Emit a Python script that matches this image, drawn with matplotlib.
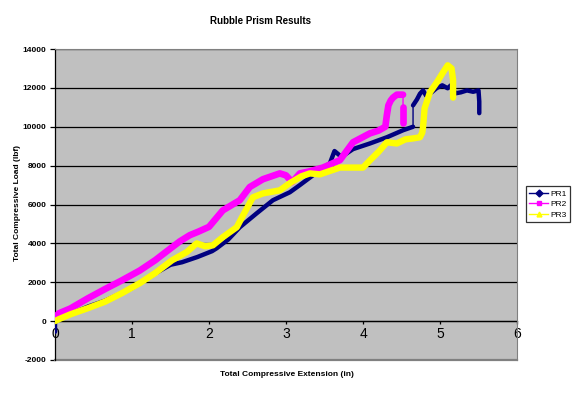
import matplotlib
matplotlib.use("Agg")
import matplotlib.pyplot as plt
from matplotlib.lines import Line2D

# ---- data ----
pr1_x = [0, 0, 0.1, 0.25, 0.43, 0.65, 0.87, 1.0, 1.3, 1.5, 1.65, 1.85, 2.04, 2.10,
         2.25, 2.40, 2.62, 2.83, 3.05, 3.18, 3.40, 3.57, 3.63, 3.72, 3.87, 4.09,
         4.31, 4.52, 4.65, 4.65, 4.70, 4.74, 4.78, 4.82, 4.89, 4.96, 5.03, 5.10,
         5.14, 5.20, 5.27, 5.35, 5.43, 5.50, 5.51, 5.51]
pr1_y = [-550, 0, 250, 450, 750, 1050, 1450, 1700, 2450, 2900, 3030, 3300, 3600, 3750,
         4200, 4830, 5550, 6220, 6630, 7000, 7650, 8120, 8750, 8450, 8850, 9140,
         9460, 9820, 10000, 11100, 11400, 11700, 11870, 11600, 11770, 12000, 12130, 11980,
         12130, 11720, 11770, 11870, 11800, 11870, 11300, 10700]

pr2_x = [0, 0.05, 0.2, 0.43, 0.65, 0.87, 1.1, 1.3, 1.52, 1.62, 1.75, 1.86, 2.0,
         2.18, 2.40, 2.53, 2.70, 2.92, 3.0, 3.08, 3.18, 3.30, 3.48, 3.70, 3.87,
         4.09, 4.20, 4.29, 4.31, 4.33, 4.36, 4.39, 4.44, 4.52, 4.52, 4.52]
pr2_y = [200, 400, 650, 1180, 1650, 2100, 2600, 3130, 3800, 4100, 4420, 4600, 4850,
         5700, 6220, 6900, 7300, 7600, 7500, 7150, 7600, 7700, 7900, 8280, 9200,
         9660, 9800, 10000, 10600, 11100, 11350, 11500, 11650, 11650, 11000, 10200]

pr3_x = [0, 0.05, 0.2, 0.43, 0.65, 0.87, 1.1, 1.3, 1.52, 1.71, 1.84, 1.95, 2.05,
         2.18, 2.36, 2.45, 2.57, 2.70, 2.92, 3.05, 3.20, 3.31, 3.44, 3.70, 3.85,
         4.0, 4.09, 4.20, 4.31, 4.44, 4.55, 4.65, 4.74, 4.77, 4.78, 4.80, 4.87,
         4.96, 5.04, 5.10, 5.15, 5.17, 5.17]
pr3_y = [0, 100, 350, 670, 1000, 1440, 1950, 2470, 3130, 3550, 4000, 3850, 3900,
         4320, 4830, 5500, 6370, 6570, 6730, 7100, 7450, 7600, 7550, 7900, 7900,
         7900, 8270, 8700, 9200, 9140, 9350, 9400, 9460, 9700, 10000, 10950, 11780,
         12290, 12800, 13160, 13000, 12400, 11500]

series_names = ["PR1", "PR2", "PR3"]
colors = ["#000080", "#FF00FF", "#FFFF00"]
markers = ["D", "s", "^"]
x_ticks = [0, 1, 2, 3, 4, 5, 6]
y_ticks = [-2000, 0, 2000, 4000, 6000, 8000, 10000, 12000, 14000]

title = "Rubble Prism Results"
xlabel = "Total Compressive Extension (in)"
ylabel = "Total Compressive Load (lbf)"

# ---- figure ----
plt.rcParams['font.family'] = ['Liberation Sans', 'DejaVu Sans']
fig = plt.figure(figsize=(5.75, 3.93), dpi=100)
fig.patch.set_facecolor("white")
ax = fig.add_axes([55/575, 33/393, 462/575, 311/393])
ax.set_facecolor("#C0C0C0")

# segments where the reference shows only a thin connecting line (sudden jumps)
thin_after = [[28], [33], []]
widths = [3.2, 4.8, 4.6]
for xs, ys, c, w, breaks in zip([pr1_x, pr2_x, pr3_x], [pr1_y, pr2_y, pr3_y],
                                colors, widths, thin_after):
    # thin connecting line through every point
    ax.plot(xs, ys, color=c, lw=1.0, zorder=3)
    # thick marker band, split at the jumps
    starts = [0] + [b + 1 for b in breaks]
    ends = [b + 1 for b in breaks] + [len(xs)]
    for s, e in zip(starts, ends):
        ax.plot(xs[s:e], ys[s:e], color=c, lw=w, solid_joinstyle="round",
                solid_capstyle="round", zorder=3)

ax.set_xlim(0, 6)
ax.set_ylim(-2000, 14000)
ax.set_xticks(x_ticks)
ax.set_yticks(y_ticks)
ax.set_xticklabels([str(t) for t in x_ticks], fontsize=6, fontweight="bold")
ax.set_yticklabels([str(t) for t in y_ticks], fontsize=6, fontweight="bold")

ax.yaxis.grid(True, color="black", lw=0.9)
ax.set_axisbelow(True)

ax.spines["bottom"].set_position(("data", 0))
ax.spines["bottom"].set_color("black")
ax.spines["bottom"].set_linewidth(0.9)
ax.spines["bottom"].set_zorder(2)
ax.spines["left"].set_color("black")
ax.spines["left"].set_linewidth(0.9)
ax.spines["top"].set_color("#808080")
ax.spines["right"].set_color("#808080")
ax.axhline(-2000, color="#808080", lw=1.6, clip_on=False, zorder=1)

ax.tick_params(axis="x", direction="out", length=2.5, width=0.9, pad=2, colors="black")
ax.tick_params(axis="y", direction="out", length=3.5, width=0.9, pad=2.5, colors="black")

fig.text(261/575, 1 - 21/393, title, ha="center", va="center",
         fontsize=7, fontweight="bold")
fig.text(287/575, 1 - 375/393, xlabel, ha="center", va="center",
         fontsize=6, fontweight="bold")
fig.text(18/575, 1 - 203/393, ylabel, ha="center", va="center",
         fontsize=6, fontweight="bold", rotation=90)

handles = [Line2D([], [], color=c, marker=m, markersize=3.5, lw=1)
           for c, m in zip(colors, markers)]
leg = fig.legend(handles, series_names, loc="center",
                 bbox_to_anchor=(548/575, 1 - 204.5/393), fontsize=6,
                 frameon=True, fancybox=False, shadow=False,
                 handlelength=2.3, handletextpad=0.3, borderpad=0.4,
                 labelspacing=0.35, borderaxespad=0)
leg.get_frame().set_edgecolor("black")
leg.get_frame().set_linewidth(0.9)

fig.savefig("out.png", dpi=100, facecolor="white")
